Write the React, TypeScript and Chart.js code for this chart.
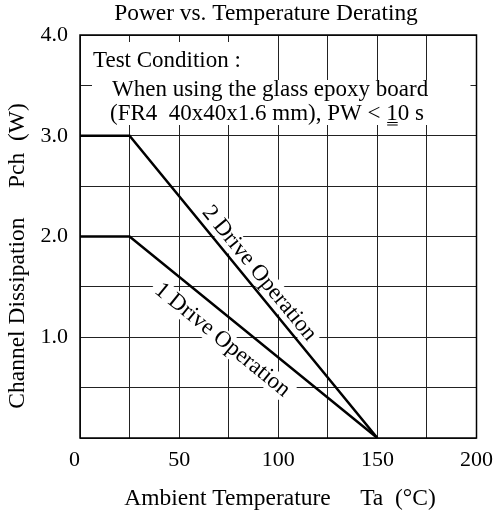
import React, { useEffect, useRef } from "react";
import { Chart, registerables } from "chart.js";

Chart.register(...registerables);

const temperatures = [0, 25, 150];
const power2Drive = [3, 3, 0];
const power1Drive = [2, 2, 0];
const xTickLabels = [0, 50, 100, 150, 200];
const yTickLabels = [1, 2, 3, 4];

const chartTitle = "Power vs. Temperature Derating";
const xAxisTitle = "Ambient Temperature     Ta  (\u00B0C)";
const yAxisTitle = "Channel Dissipation     Pch  (W)";
const conditionLines = [
  "Test Condition :",
  "When using the glass epoxy board",
  "(FR4  40x40x1.6 mm), PW < 10 s",
];
const label2Drive = "2 Drive Operation";
const label1Drive = "1 Drive Operation";

const FONT = "'Liberation Serif', 'Times New Roman', serif";

export default function App() {
  const ref = useRef<HTMLCanvasElement | null>(null);

  useEffect(() => {
    document.body.style.margin = "0";
    const canvas = ref.current;
    if (!canvas) return;

    const textPlugin = {
      id: "customText",
      beforeDatasetsDraw(chart: any) {
        const { ctx, chartArea, scales } = chart;
        const { left, top, right } = chartArea;
        ctx.save();
        ctx.fillStyle = "#fff";
        ctx.fillRect(left + 12, top + 7, 160, 38);
        ctx.fillRect(left + 12, top + 45, right - 6 - (left + 12), 45);
        ctx.fillStyle = "#000";
        ctx.font = `23px ${FONT}`;
        ctx.textBaseline = "alphabetic";
        ctx.textAlign = "left";
        ctx.fillText(conditionLines[0], left + 13, top + 32);
        ctx.fillText(conditionLines[1], left + 32, top + 61);
        const l3x = left + 30;
        const l3y = top + 85;
        ctx.fillText(conditionLines[2], l3x, l3y);
        const idx = conditionLines[2].indexOf("10 s");
        const pre = ctx.measureText(conditionLines[2].slice(0, idx)).width;
        const oneW = ctx.measureText("1").width;
        ctx.strokeStyle = "#000";
        ctx.lineWidth = 1;
        ctx.beginPath();
        ctx.moveTo(l3x + pre + 1, l3y + 2.5);
        ctx.lineTo(l3x + pre + oneW, l3y + 2.5);
        ctx.moveTo(l3x + pre + 1, l3y + 5);
        ctx.lineTo(l3x + pre + oneW, l3y + 5);
        ctx.stroke();

        const xs = scales.x;
        const ys = scales.y;
        const drawRotated = (
          text: string,
          cx: number,
          cy: number,
          p1: number[],
          p2: number[]
        ) => {
          const x1 = xs.getPixelForValue(p1[0]);
          const y1 = ys.getPixelForValue(p1[1]);
          const x2 = xs.getPixelForValue(p2[0]);
          const y2 = ys.getPixelForValue(p2[1]);
          const ang = Math.atan2(y2 - y1, x2 - x1);
          const px = xs.getPixelForValue(cx);
          const py = ys.getPixelForValue(cy);
          ctx.save();
          ctx.translate(px, py);
          ctx.rotate(ang);
          ctx.font = `23px ${FONT}`;
          const w = ctx.measureText(text).width;
          ctx.fillStyle = "#fff";
          ctx.fillRect(-w / 2 - 4, -11, w + 8, 22);
          ctx.fillStyle = "#000";
          ctx.textAlign = "center";
          ctx.textBaseline = "middle";
          ctx.fillText(text, 0, 0);
          ctx.restore();
        };
        drawRotated(label2Drive, 90.4, 1.633, [temperatures[1], power2Drive[1]], [temperatures[2], power2Drive[2]]);
        drawRotated(label1Drive, 71.8, 0.973, [temperatures[1], power1Drive[1]], [temperatures[2], power1Drive[2]]);
        ctx.restore();
      },
      afterDraw(chart: any) {
        const { ctx, chartArea } = chart;
        const { left, top, right, bottom } = chartArea;
        ctx.save();
        ctx.strokeStyle = "#000";
        ctx.lineWidth = 1.5;
        ctx.strokeRect(left, top, right - left, bottom - top);
        ctx.fillStyle = "#000";
        ctx.textAlign = "center";
        ctx.textBaseline = "alphabetic";
        ctx.font = `23.4px ${FONT}`;
        ctx.fillText(chartTitle, 266, 20);
        ctx.font = `23.5px ${FONT}`;
        ctx.fillText(xAxisTitle, 280, 505);
        ctx.save();
        ctx.translate(23.5, 256);
        ctx.rotate(-Math.PI / 2);
        ctx.fillText(yAxisTitle, 0, 0);
        ctx.restore();
        ctx.restore();
      },
    };

    const chart = new Chart(canvas, {
      type: "line",
      data: {
        datasets: [
          {
            label: label2Drive,
            data: temperatures.map((t, i) => ({ x: t, y: power2Drive[i] })),
            borderColor: "#000",
            borderWidth: 2.5,
            pointRadius: 0,
            tension: 0,
          },
          {
            label: label1Drive,
            data: temperatures.map((t, i) => ({ x: t, y: power1Drive[i] })),
            borderColor: "#000",
            borderWidth: 2.5,
            pointRadius: 0,
            tension: 0,
          },
        ],
      },
      options: {
        animation: false,
        responsive: true,
        maintainAspectRatio: false,
        layout: { padding: { top: 35, right: 19, left: 0, bottom: 0 } },
        plugins: {
          legend: { display: false },
          title: { display: false },
          tooltip: { enabled: false },
        },
        scales: {
          x: {
            type: "linear",
            min: 0,
            max: 200,
            afterFit: (s: any) => {
              s.height = 77;
            },
            ticks: {
              stepSize: 25,
              autoSkip: false,
              maxRotation: 0,
              padding: 9,
              color: "#000",
              font: { family: FONT, size: 22 },
              callback: (v: any) =>
                xTickLabels.includes(Number(v))
                  ? Number(v) === 0
                    ? "0  "
                    : String(v)
                  : "",
            },
            grid: { color: "#222", lineWidth: 1, drawTicks: false },
            border: { display: false },
          },
          y: {
            type: "linear",
            min: 0,
            max: 4,
            afterFit: (s: any) => {
              s.width = 80;
            },
            ticks: {
              stepSize: 0.5,
              autoSkip: false,
              padding: 12,
              color: "#000",
              font: { family: FONT, size: 22 },
              callback: (v: any) =>
                yTickLabels.includes(Number(v)) ? Number(v).toFixed(1) : "",
            },
            grid: { color: "#222", lineWidth: 1, drawTicks: false },
            border: { display: false },
          },
        },
      },
      plugins: [textPlugin],
    });

    return () => chart.destroy();
  }, []);

  return (
    <div style={{ position: "relative", width: 502, height: 515 }}>
      <canvas ref={ref} />
    </div>
  );
}
